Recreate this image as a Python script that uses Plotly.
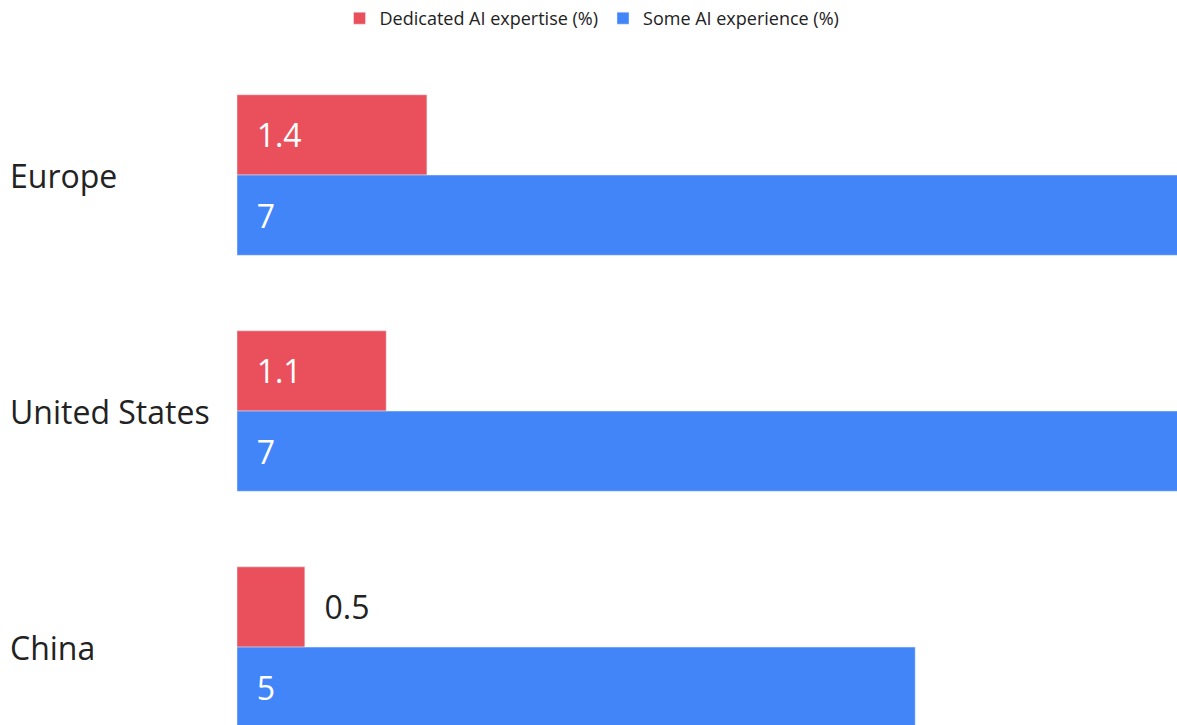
import plotly.graph_objects as go

regions = ["Europe", "United States", "China"]
dedicated_ai = [1.4, 1.1, 0.5]
some_ai = [7, 7, 5]
dedicated_pos = ["inside", "inside", "outside"]

FONT = "Open Sans"
RED = "#E9505B"
BLUE = "#4285F9"

W, H = 1177, 725
LEFT, TOP = 237, 57

fig = go.Figure()
fig.add_trace(
    go.Bar(
        y=regions,
        x=dedicated_ai,
        orientation="h",
        name="Dedicated AI expertise (%)",
        marker=dict(color=RED),
        texttemplate="\u00a0\u00a0%{x}",
        textposition=dedicated_pos,
        insidetextanchor="start",
        insidetextfont=dict(color="white", size=32, family=FONT),
        outsidetextfont=dict(color="#222222", size=32, family=FONT),
    )
)
fig.add_trace(
    go.Bar(
        y=regions,
        x=some_ai,
        orientation="h",
        name="Some AI experience (%)",
        marker=dict(color=BLUE),
        texttemplate="\u00a0\u00a0%{x}",
        textposition="inside",
        insidetextanchor="start",
        insidetextfont=dict(color="white", size=32, family=FONT),
    )
)

# left-aligned category labels
for r in regions:
    fig.add_annotation(
        x=(8 - LEFT) / (W - LEFT),
        xref="paper",
        y=r,
        yref="y",
        text=r,
        showarrow=False,
        xanchor="left",
        font=dict(size=32, color="#222222", family=FONT),
    )

fig.update_layout(
    width=W,
    height=H,
    margin=dict(l=LEFT, r=0, t=TOP, b=0),
    paper_bgcolor="white",
    plot_bgcolor="white",
    barmode="group",
    bargap=0.32,
    bargroupgap=0,
    font=dict(family=FONT, color="#222222"),
    legend=dict(
        orientation="h",
        xref="container",
        yref="container",
        x=0.503,
        xanchor="center",
        y=1.0,
        yanchor="top",
        font=dict(size=18, family=FONT),
        traceorder="normal",
    ),
    showlegend=True,
)
fig.update_xaxes(range=[0, 6.93], visible=False, showgrid=False)
fig.update_yaxes(
    range=[2.33, -0.5],
    showticklabels=False,
    showgrid=False,
    zeroline=False,
    showline=False,
    ticks="",
)

# drop the default body margin so the figure fills the window exactly
fig.write_html(
    "out.html",
    config={"displayModeBar": False},
    post_script="document.body.style.margin='0';",
)
